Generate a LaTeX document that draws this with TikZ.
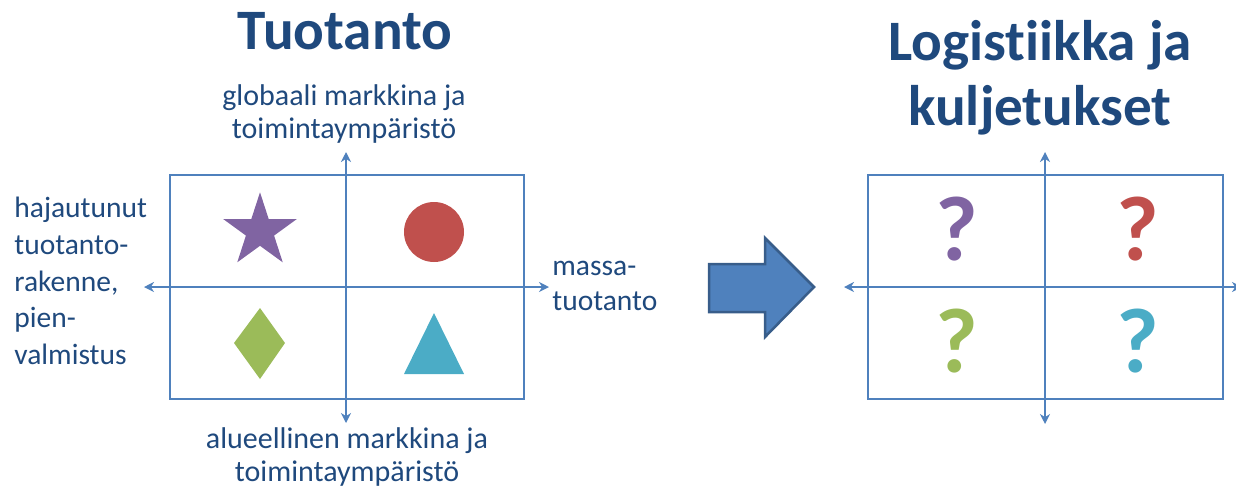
\documentclass[tikz,border=0pt]{standalone}
\usepackage{fontspec}
\setmainfont{Carlito}[Ligatures=NoCommon]
\usetikzlibrary{arrows.meta}
\definecolor{axisblue}{HTML}{4F81BD}
\definecolor{arrowedge}{HTML}{385D8A}
\definecolor{textblue}{HTML}{1F497D}
\definecolor{qpurple}{HTML}{8064A2}
\definecolor{qred}{HTML}{C0504D}
\definecolor{qgreen}{HTML}{9BBB59}
\definecolor{qcyan}{HTML}{4BACC6}
\tikzset{
  frame/.style={draw=axisblue,line width=1.3pt},
  axis/.style={draw=axisblue,line width=1.2pt,{Stealth[length=5pt,width=5pt,inset=1.6pt]}-{Stealth[length=5pt,width=5pt,inset=1.6pt]}},
  label/.style={text=textblue,font=\fontsize{15}{16.5}\selectfont,inner sep=0pt},
  title/.style={text=textblue,font=\fontsize{28.6}{32.5}\selectfont\bfseries,inner sep=0pt,align=center},
  quest/.style={font=\fontsize{46}{46}\selectfont\bfseries,inner sep=0pt}
}
\begin{document}
\begin{tikzpicture}[x=0.5pt,y=-0.5pt]
            \useasboundingbox (0,0) rectangle (1236,489);
            % left chart: Tuotanto
            \node[title] (tuo) at (345,31) {Tuotanto};
            \draw[frame] (170,175) rectangle (524,399);
            \coordinate (lw) at (144,287);
            \coordinate (le) at (549,287);
            \coordinate (ln) at (346,152);
            \coordinate (ls) at (346,423);
            \draw[axis] (lw) -- (le);
            \draw[axis] (ls) -- (ln);
            \node[label,align=center] (glob) at (344,114) {globaali markkina ja\\toimintaympäristö};
            \node[label,align=center] (alue) at (347,457) {alueellinen markkina ja\\toimintaympäristö};
            \node[label,align=left,anchor=west,font=\fontsize{14.75}{18.35}\selectfont] (haja) at (14,281) {hajautunut\\tuotanto-\\rakenne,\\pien-\\valmistus};
            \node[label,align=left,anchor=west,font=\fontsize{14.75}{17.5}\selectfont] (mass) at (552,286) {massa-\\tuotanto};
            % shapes in the quadrants
            \fill[qpurple,shift={(260,231)}] (90:19.35pt) \foreach \k in {0,...,4}{
                -- ({90+72*\k}:19.35pt) -- ({126+72*\k}:7.4pt)} -- cycle;
            \fill[qred] (434,232) circle (15pt);
            \fill[qgreen] (260,308) -- (285,343) -- (260,379) -- (234,343) -- cycle;
            \fill[qcyan] (434,313) -- (464,374) -- (404,374) -- cycle;
            % big arrow
            \draw[fill=axisblue,draw=arrowedge,line width=1.25pt]
                (709,264) -- (765,264) -- (765,238) -- (814,287) -- (765,337) -- (765,312) -- (709,312) -- cycle;
            % right chart: Logistiikka ja kuljetukset
            \node[title] (logi) at (1040,78) {Logistiikka ja\\kuljetukset};
            \draw[frame] (868,175) rectangle (1223,399);
            \coordinate (rw) at (844,287);
            \coordinate (re) at (1242,287);
            \coordinate (rn) at (1045,152);
            \coordinate (rs) at (1045,424);
            \draw[axis] (rw) -- (re);
            \draw[axis] (rs) -- (rn);
            \path   (957,229) node[quest,text=qpurple] (q1) {?}
                    (1138,229) node[quest,text=qred] (q2) {?}
                    (957,341) node[quest,text=qgreen] (q3) {?}
                    (1138,341) node[quest,text=qcyan] (q4) {?};
        \end{tikzpicture}
\end{document}
